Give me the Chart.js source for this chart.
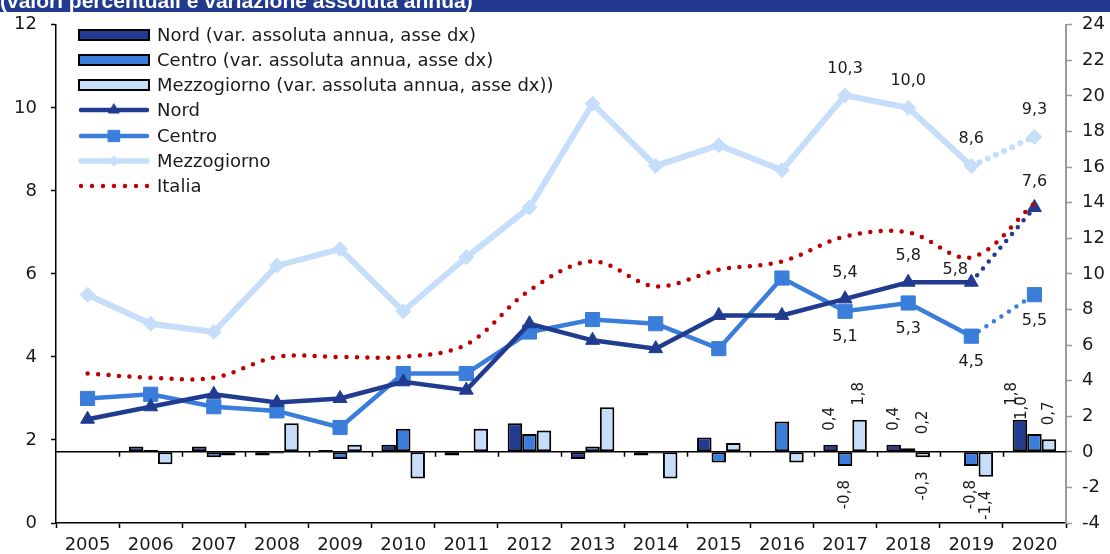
<!DOCTYPE html>
<html>
<head>
<meta charset="utf-8">
<script src="https://cdn.jsdelivr.net/npm/chart.js@4/dist/chart.umd.min.js"></script>
<style>
  body { margin: 0; background: #fff; }
  #wrap { position: relative; width: 1110px; height: 554px; }
</style>
</head>
<body>
<div id="wrap"><canvas id="chart" width="1110" height="554"></canvas></div>
<script>
/* Data */
var years = ['2005','2006','2007','2008','2009','2010','2011','2012','2013','2014','2015','2016','2017','2018','2019','2020'];

// tassi (asse sx)
var nord   = [2.5, 2.8, 3.1, 2.9, 3.0, 3.4, 3.2, 4.8, 4.4, 4.2, 5.0, 5.0, 5.4, 5.8, 5.8, 7.6];
var centro = [3.0, 3.1, 2.8, 2.7, 2.3, 3.6, 3.6, 4.6, 4.9, 4.8, 4.2, 5.9, 5.1, 5.3, 4.5, 5.5];
var mezzo  = [5.5, 4.8, 4.6, 6.2, 6.6, 5.1, 6.4, 7.6, 10.1, 8.6, 9.1, 8.5, 10.3, 10.0, 8.6, 9.3];
var italia = [3.6, 3.5, 3.5, 4.0, 4.0, 4.0, 4.3, 5.6, 6.3, 5.7, 6.1, 6.3, 6.9, 7.0, 6.4, 7.7];

// variazioni assolute annue (asse dx)
var nordVar   = [null, 0.3, 0.3, -0.2, 0.1, 0.4, -0.2, 1.6, -0.4, -0.2, 0.8, 0, 0.4, 0.4, 0, 1.8];
var centroVar = [null, 0.1, -0.3, -0.1, -0.4, 1.3, 0, 1.0, 0.3, -0.1, -0.6, 1.7, -0.8, 0.2, -0.8, 1.0];
var mezzoVar  = [null, -0.7, -0.2, 1.6, 0.4, -1.5, 1.3, 1.2, 2.5, -1.5, 0.5, -0.6, 1.8, -0.3, -1.4, 0.7];

var leftTicks = [0, 2, 4, 6, 8, 10, 12];
var rightTicks = [-4, -2, 0, 2, 4, 6, 8, 10, 12, 14, 16, 18, 20, 22, 24];

// anni con etichette
var labelYears = ['2017', '2018', '2019', '2020'];

var titleText = '(valori percentuali e variazione assoluta annua)';

/* Colours */
var cNord = '#213B91';
var cCentro = '#3A7DDA';
var cMezzo = '#C6DEFA';
var cItalia = '#C00000';
var FONT = '"DejaVu Sans", sans-serif';

function fmt(v) { return v.toFixed(1).replace('.', ','); }

// last segment (2019-2020) is dotted
var dottedLast = {
  borderDash: function(ctx) { return ctx.p1DataIndex === years.length - 1 ? [0, 9] : undefined; },
  borderCapStyle: function(ctx) { return ctx.p1DataIndex === years.length - 1 ? 'round' : undefined; }
};

/* Title band + zero line + labels + legend */
var extrasPlugin = {
  id: 'extras',
  beforeDatasetsDraw: function(chart) {
    var ctx = chart.ctx, a = chart.chartArea;
    var y0 = chart.scales.y1.getPixelForValue(0);
    var xs = chart.scales.x;
    ctx.save();
    ctx.strokeStyle = '#000';
    ctx.lineWidth = 1.5;
    ctx.beginPath();
    ctx.moveTo(a.left, y0);
    ctx.lineTo(a.right, y0);
    for (var i = 1; i < years.length; i++) {
      var bx = Math.round((xs.getPixelForValue(i - 1) + xs.getPixelForValue(i)) / 2) + 0.5;
      ctx.moveTo(bx, y0);
      ctx.lineTo(bx, y0 + 5);
    }
    ctx.stroke();
    ctx.restore();
  },
  afterDraw: function(chart) {
    var ctx = chart.ctx;
    ctx.save();

    // title band (cut at top like the source)
    ctx.fillStyle = '#213A8F';
    ctx.fillRect(0, 0, chart.width, 12);
    ctx.beginPath();
    ctx.rect(0, 0, chart.width, 12);
    ctx.clip();
    ctx.fillStyle = '#fff';
    ctx.font = 'bold 21px "Liberation Sans", Arial, sans-serif';
    ctx.textBaseline = 'alphabetic';
    ctx.textAlign = 'left';
    ctx.fillText(titleText, 0, 8);
    ctx.restore();

    ctx.save();
    ctx.fillStyle = '#1a1a1a';
    ctx.font = '16px ' + FONT;
    ctx.textAlign = 'center';
    ctx.textBaseline = 'middle';

    // line labels
    var lineSets = [
      { idx: 5, data: mezzo, dy: { def: -27 }, dx: {} },
      { idx: 3, data: nord, dy: { def: -26, '2019': -12 }, dx: { '2019': -16 } },
      { idx: 4, data: centro, dy: { def: 26 }, dx: {} }
    ];
    lineSets.forEach(function(s) {
      var meta = chart.getDatasetMeta(s.idx);
      labelYears.forEach(function(yr) {
        var i = years.indexOf(yr);
        var p = meta.data[i];
        var dy = s.dy[yr] !== undefined ? s.dy[yr] : s.dy.def;
        ctx.fillText(fmt(s.data[i]), p.x + (s.dx[yr] || 0), p.y + dy);
      });
    });

    // bar labels (rotated)
    ctx.font = '15px ' + FONT;
    var barSets = [
      { idx: 0, data: nordVar, dx: { '2020': -8 } },
      { idx: 1, data: centroVar, dx: { '2018': 15, '2020': -12 } },
      { idx: 2, data: mezzoVar, dx: {} }
    ];
    barSets.forEach(function(s) {
      var meta = chart.getDatasetMeta(s.idx);
      labelYears.forEach(function(yr) {
        var i = years.indexOf(yr);
        var v = s.data[i];
        if (!v) return;
        var b = meta.data[i];
        var x = b.x + (s.dx[yr] || 0);
        ctx.save();
        if (v > 0) {
          ctx.translate(x, Math.min(b.y, b.base) - 14);
          ctx.rotate(-Math.PI / 2);
          ctx.textAlign = 'left';
        } else {
          ctx.translate(x, Math.max(b.y, b.base) + 14);
          ctx.rotate(-Math.PI / 2);
          ctx.textAlign = 'right';
        }
        ctx.fillText(fmt(v), 0, 0);
        ctx.restore();
      });
    });

    // legend
    var lx = 79, lw = 70, tx = 157;
    var rows = [35, 60, 85, 110, 136, 161, 186];
    var items = [
      { t: 'Nord (var. assoluta annua, asse dx)', bar: cNord },
      { t: 'Centro (var. assoluta annua, asse dx)', bar: cCentro },
      { t: 'Mezzogiorno (var. assoluta annua, asse dx))', bar: cMezzo },
      { t: 'Nord', line: cNord, w: 4.5, ps: 'triangle', r: 6 },
      { t: 'Centro', line: cCentro, w: 4.5, ps: 'rect', r: 8 },
      { t: 'Mezzogiorno', line: cMezzo, w: 5.5, ps: 'rectRot', r: 5 },
      { t: 'Italia', dots: cItalia }
    ];
    items.forEach(function(it, k) {
      var cy = rows[k];
      if (it.bar) {
        ctx.fillStyle = it.bar;
        ctx.fillRect(lx, cy - 5, lw, 10);
        ctx.strokeStyle = '#000';
        ctx.lineWidth = 2;
        ctx.strokeRect(lx, cy - 5, lw, 10);
      } else if (it.line) {
        ctx.strokeStyle = it.line;
        ctx.lineWidth = it.w;
        ctx.lineCap = 'round';
        ctx.beginPath();
        ctx.moveTo(lx + 2, cy);
        ctx.lineTo(lx + lw - 2, cy);
        ctx.stroke();
        ctx.fillStyle = it.line;
        ctx.lineWidth = 1;
        Chart.helpers.drawPoint(ctx, { pointStyle: it.ps, rotation: 0, radius: it.r, borderWidth: 1 }, lx + lw / 2, cy);
      } else {
        ctx.fillStyle = it.dots;
        for (var d = 0; d < 7; d++) {
          ctx.beginPath();
          ctx.arc(lx + 2 + d * 11, cy, 2.2, 0, Math.PI * 2);
          ctx.fill();
        }
      }
      ctx.fillStyle = '#1a1a1a';
      ctx.font = '18px ' + FONT;
      ctx.textAlign = 'left';
      ctx.textBaseline = 'middle';
      ctx.fillText(it.t, tx, cy + 1);
    });
    ctx.restore();
  }
};

var barStyle = { borderColor: '#000', borderWidth: 2, borderSkipped: false,
  barPercentage: 1.0, categoryPercentage: 0.69, yAxisID: 'y1', order: 5 };

var ctx = document.getElementById('chart');
var chart = new Chart(ctx, {
  data: {
    labels: years,
    datasets: [
      Object.assign({ type: 'bar', label: 'Nord (var. assoluta annua, asse dx)', data: nordVar, backgroundColor: cNord }, barStyle),
      Object.assign({ type: 'bar', label: 'Centro (var. assoluta annua, asse dx)', data: centroVar, backgroundColor: cCentro }, barStyle),
      Object.assign({ type: 'bar', label: 'Mezzogiorno (var. assoluta annua, asse dx))', data: mezzoVar, backgroundColor: cMezzo }, barStyle),
      { type: 'line', label: 'Nord', data: nord, yAxisID: 'y', order: 1,
        borderColor: cNord, backgroundColor: cNord, borderWidth: 4.5,
        pointStyle: 'triangle', pointRadius: 8, pointBorderWidth: 1, segment: dottedLast },
      { type: 'line', label: 'Centro', data: centro, yAxisID: 'y', order: 2,
        borderColor: cCentro, backgroundColor: cCentro, borderWidth: 4.5,
        pointStyle: 'rect', pointRadius: 10, pointBorderWidth: 1, segment: dottedLast },
      { type: 'line', label: 'Mezzogiorno', data: mezzo, yAxisID: 'y', order: 3,
        borderColor: cMezzo, backgroundColor: cMezzo, borderWidth: 6,
        pointStyle: 'rectRot', pointRadius: 7.5, pointBorderWidth: 1, segment: dottedLast },
      { type: 'line', label: 'Italia', data: italia, yAxisID: 'y', order: 0,
        borderColor: cItalia, borderWidth: 4.5, borderDash: [0, 10.5], borderCapStyle: 'round',
        tension: 0.35, pointRadius: 0 }
    ]
  },
  options: {
    responsive: false,
    animation: false,
    layout: { padding: { top: 24, left: 0, right: 0, bottom: 0 } },
    plugins: { legend: { display: false }, tooltip: { enabled: false } },
    scales: {
      x: {
        grid: { offset: true, drawOnChartArea: false, tickLength: 5, tickColor: '#000', tickWidth: 1.5 },
        border: { color: '#000', width: 1.5 },
        ticks: { color: '#1a1a1a', font: { family: FONT, size: 18 }, padding: 7, maxRotation: 0, autoSkip: false },
        afterFit: function(s) { s.height = 31; }
      },
      y: {
        position: 'left', min: 0, max: 12,
        afterBuildTicks: function(s) { s.ticks = leftTicks.map(function(v) { return { value: v }; }); },
        grid: { drawOnChartArea: false, tickLength: 5, tickColor: '#000', tickWidth: 1.5 },
        border: { color: '#000', width: 1.5 },
        ticks: { color: '#1a1a1a', font: { family: FONT, size: 18 }, padding: 14 },
        afterFit: function(s) { s.width = 56; }
      },
      y1: {
        position: 'right', min: -4, max: 24,
        afterBuildTicks: function(s) { s.ticks = rightTicks.map(function(v) { return { value: v }; }); },
        grid: { drawOnChartArea: false, tickLength: 6, tickColor: '#999', tickWidth: 1.5 },
        border: { color: '#999', width: 2 },
        ticks: { color: '#1a1a1a', font: { family: FONT, size: 18 }, padding: 10 },
        afterFit: function(s) { s.width = 44; }
      }
    }
  },
  plugins: [extrasPlugin]
});
</script>
</body>
</html>
